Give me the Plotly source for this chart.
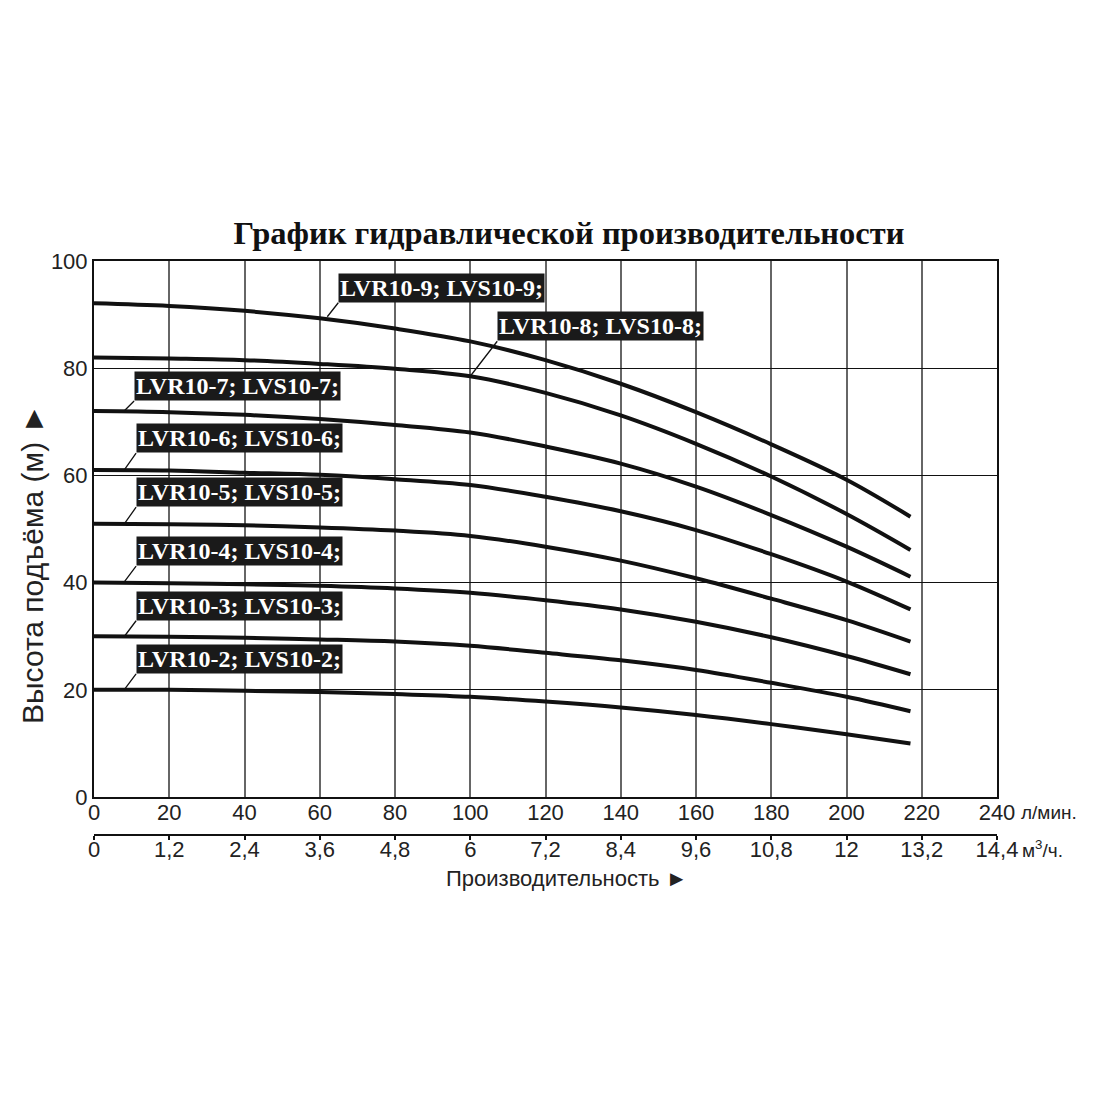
import plotly.graph_objects as go

# расход, л/мин (точки)
flow_lpm = [0, 20, 40, 60, 80, 100, 120, 140, 160, 180, 200, 217]

# напор, м, для каждой модели
head_9 = [92.1, 91.6, 90.7, 89.3, 87.4, 85.0, 81.5, 77.1, 71.8, 65.8, 59.2, 52.3]
head_8 = [82.0, 81.8, 81.5, 80.8, 79.9, 78.5, 75.4, 71.2, 65.9, 59.8, 52.8, 46.1]
head_7 = [72.0, 71.8, 71.3, 70.5, 69.4, 68.0, 65.4, 62.2, 57.9, 52.6, 46.7, 41.1]
head_6 = [61.0, 60.9, 60.5, 60.1, 59.3, 58.2, 56.0, 53.3, 49.8, 45.3, 40.2, 35.0]
head_5 = [51.0, 50.9, 50.7, 50.3, 49.7, 48.7, 46.7, 44.1, 40.8, 37.0, 33.0, 29.0]
head_4 = [40.0, 39.9, 39.7, 39.4, 38.9, 38.1, 36.7, 35.0, 32.7, 29.8, 26.3, 22.9]
head_3 = [30.0, 29.9, 29.7, 29.4, 29.0, 28.2, 26.9, 25.5, 23.7, 21.3, 18.7, 16.0]
head_2 = [20.0, 20.0, 19.8, 19.6, 19.2, 18.7, 17.8, 16.7, 15.3, 13.6, 11.7, 10.0]

models = ["LVR10-9; LVS10-9;", "LVR10-8; LVS10-8;", "LVR10-7; LVS10-7;",
          "LVR10-6; LVS10-6;", "LVR10-5; LVS10-5;", "LVR10-4; LVS10-4;",
          "LVR10-3; LVS10-3;", "LVR10-2; LVS10-2;"]
heads = [head_9, head_8, head_7, head_6, head_5, head_4, head_3, head_2]

# точки на кривых, куда указывают выноски подписей
label_x = [62, 100, 8, 8, 8, 8, 8, 8]
label_y = [89.6, 78.5, 72.0, 61.0, 50.9, 40.1, 29.9, 20.0]

# шкалы
lpm_ticks = [0, 20, 40, 60, 80, 100, 120, 140, 160, 180, 200, 220, 240]
m3h_ticks = [0, 1.2, 2.4, 3.6, 4.8, 6, 7.2, 8.4, 9.6, 10.8, 12, 13.2, 14.4]
m3h_text = ["0", "1,2", "2,4", "3,6", "4,8", "6", "7,2", "8,4", "9,6",
            "10,8", "12", "13,2", "14,4"]
head_ticks = [0, 20, 40, 60, 80, 100]

SANS = "Liberation Sans, Arial, sans-serif"
SERIF = "Liberation Serif, Times New Roman, serif"

fig = go.Figure()

for name, h in zip(models, heads):
    fig.add_trace(go.Scatter(x=flow_lpm, y=h, mode="lines", name=name,
                             line=dict(color="#111111", width=4,
                                       shape="spline", smoothing=1.0),
                             showlegend=False, hoverinfo="x+y+name"))

# пустой след, чтобы вторая шкала (м3/ч) была привязана
fig.add_trace(go.Scatter(x=m3h_ticks, y=[None] * len(m3h_ticks), xaxis="x2",
                         mode="lines", showlegend=False, hoverinfo="skip"))

# подписи моделей - черные плашки с выносками
offsets = [(11, -14), (27, -35), (10, -10), (12, -17), (12, -17),
           (12, -16), (12, -16), (12, -16)]
for name, lx, ly, (ax, ay) in zip(models, label_x, label_y, offsets):
    fig.add_annotation(x=lx, y=ly, text=name, showarrow=True, arrowhead=0,
                       arrowwidth=1.3, arrowcolor="#111111",
                       ax=ax, ay=ay, axref="pixel", ayref="pixel",
                       xanchor="left", yanchor="bottom",
                       bgcolor="#1a1a1a", borderpad=1,
                       font=dict(family=SERIF, size=24, color="white",
                                 weight="bold"))

# единицы и подписи осей
fig.add_annotation(text="л/мин.", xref="x domain", yref="y domain", x=1, y=0,
                   xanchor="left", yanchor="middle", xshift=22, yshift=-15,
                   showarrow=False, font=dict(family=SANS, size=19, color="#222"))
fig.add_annotation(text="м<sup>3</sup>/ч.", xref="x domain", yref="y domain",
                   x=1, y=0, xanchor="left", yanchor="middle", xshift=23,
                   yshift=-52, showarrow=False,
                   font=dict(family=SANS, size=19, color="#222"))
fig.add_annotation(text="Производительность ►", xref="x domain",
                   yref="y domain", x=0.5, y=0, xshift=21, yshift=-81,
                   yanchor="middle", showarrow=False,
                   font=dict(family=SANS, size=22, color="#222"))
fig.add_annotation(text="Высота подъёма (м) ►", xref="x domain",
                   yref="y domain", x=0, y=0.5, xshift=-62, yshift=-35,
                   xanchor="center", yanchor="middle",
                   textangle=-90, showarrow=False,
                   font=dict(family=SANS, size=30, color="#222"))

fig.update_layout(
    width=1100, height=1100,
    paper_bgcolor="white", plot_bgcolor="white",
    margin=dict(l=86, r=111, t=253, b=273),
    title=dict(text="<b>График гидравлической производительности</b>",
               x=0.51, xanchor="center", y=0.796, yanchor="middle",
               font=dict(family=SERIF, size=32.5, color="#111")),
    xaxis=dict(range=[0, 240], tickvals=lpm_ticks, showgrid=True,
               gridcolor="#666666", gridwidth=1.6, zeroline=False,
               showline=True, linecolor="#111", linewidth=2, mirror=True,
               ticks="", ticklabelstandoff=-5,
               tickfont=dict(family=SANS, size=22, color="#222"),
               fixedrange=True),
    xaxis2=dict(range=[0, 14.4], overlaying="x", anchor="free", position=0,
                side="bottom", tickvals=m3h_ticks, ticktext=m3h_text,
                showgrid=False, zeroline=False, showline=True,
                linecolor="#111", linewidth=2, ticks="outside", ticklen=4,
                tickcolor="#111", tickwidth=2, ticklabelstandoff=-9,
                tickfont=dict(family=SANS, size=22, color="#222"),
                fixedrange=True),
    yaxis=dict(range=[0, 100], tickvals=head_ticks, domain=[0.0662, 1],
               showgrid=True, gridcolor="#111", gridwidth=1.3, zeroline=False,
               showline=True, linecolor="#111", linewidth=2, mirror=True,
               ticks="", tickfont=dict(family=SANS, size=22, color="#222"),
               fixedrange=True),
)

fig.write_html("out.html")
